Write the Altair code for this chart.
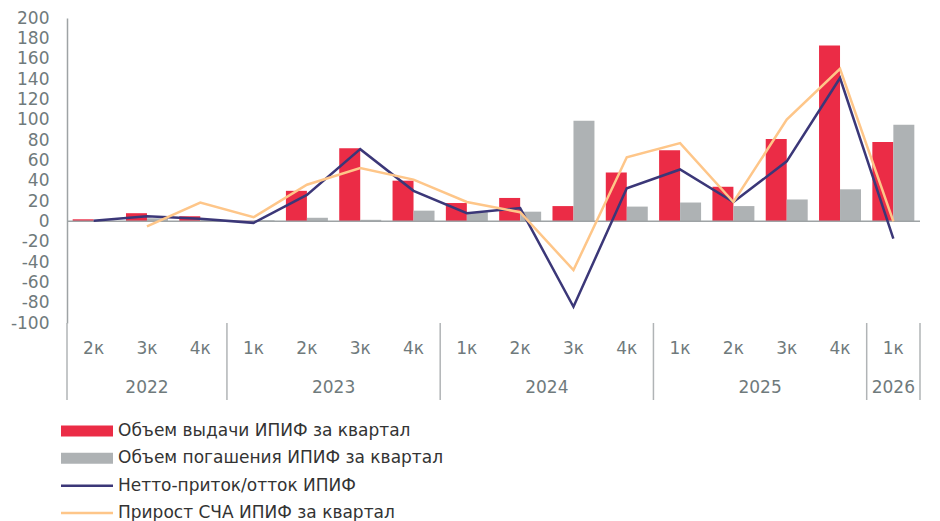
import altair as alt
import pandas as pd

years = ["2022", "2022", "2022", "2023", "2023", "2023", "2023",
         "2024", "2024", "2024", "2024", "2025", "2025", "2025", "2025", "2026"]
quarters = ["2к", "3к", "4к", "1к", "2к", "3к", "4к", "1к", "2к", "3к", "4к",
            "1к", "2к", "3к", "4к", "1к"]
issue = [2, 8, 5, 0.5, 30, 72, 40, 18, 23, 15, 48, 70, 34, 81, 173, 78]
redeem = [0.5, 3, 1.5, 1, 3.5, 1.5, 10.5, 9, 9.5, 99, 14.5, 18.5, 15, 21.5, 31.5, 95]
net = [0.5, 5, 2.5, -1.5, 26, 71, 30, 8, 13, -84, 32.5, 51, 19, 59, 141, -17]
nav = [None, -5, 18.5, 4, 36, 52.5, 41, 19, 9, -48, 63, 77, 19, 100, 150, 0]

s_issue = "Объем выдачи ИПИФ за квартал"
s_redeem = "Объем погашения ИПИФ за квартал"
s_net = "Нетто-приток/отток ИПИФ"
s_nav = "Прирост СЧА ИПИФ за квартал"
legend_labels = [s_issue, s_redeem, s_net, s_nav]
legend_colors = ["#EB2C46", "#AEB2B4", "#3B3778", "#FEC689"]
legend_kind = ["bar", "bar", "line", "line"]

keys = [f"{y}|{q}" for y, q in zip(years, quarters)]

bars_df = pd.DataFrame({
    "key": keys * 2,
    "series": [s_issue] * len(keys) + [s_redeem] * len(keys),
    "value": issue + redeem,
})
lines_df = pd.DataFrame({
    "key": keys * 2,
    "series": [s_net] * len(keys) + [s_nav] * len(keys),
    "value": net + nav,
}).dropna()

# year groups: boundaries and centres derived from the quarter counts
year_names = []
year_counts = []
for y in years:
    if not year_names or year_names[-1] != y:
        year_names.append(y)
        year_counts.append(0)
    year_counts[-1] += 1
starts = [sum(year_counts[:i]) for i in range(len(year_counts))]
years_df = pd.DataFrame({
    "year": year_names,
    "mid": [s + c / 2 for s, c in zip(starts, year_counts)],
})
bounds_df = pd.DataFrame({"b": starts + [len(keys)]})

LABEL = "#6F7A7C"
FONT = "DejaVu Sans"
FS = 17

xenc = alt.X("key:N", sort=keys, title=None,
             scale=alt.Scale(paddingInner=0, paddingOuter=0),
             axis=alt.Axis(labelExpr="split(datum.label, '|')[1]", labelAngle=0,
                           ticks=False, domain=False, labelPadding=17,
                           labelFontSize=FS, labelColor=LABEL, labelFont=FONT))
yscale = alt.Scale(domain=[-100, 200], nice=False)
yaxis = alt.Axis(values=list(range(-100, 201, 20)), grid=False, ticks=False,
                 tickSize=0, labelPadding=18, labelFontSize=FS, labelColor=LABEL,
                 labelFont=FONT, labelOverlap=False,
                 labelExpr="'' + datum.value",
                 domainColor="#9EA3A5", domainWidth=1.5)

color_scale = alt.Scale(domain=legend_labels, range=legend_colors)

bars = alt.Chart(bars_df).mark_bar().encode(
    x=xenc,
    xOffset=alt.XOffset("series:N", sort=[s_issue, s_redeem],
                        scale=alt.Scale(paddingInner=0, paddingOuter=0.27)),
    y=alt.Y("value:Q", scale=yscale, title=None, axis=yaxis),
    color=alt.Color("series:N", scale=color_scale, legend=None),
)

zero = alt.Chart(pd.DataFrame({"z": [0]})).mark_rule(color="#9EA3A5", strokeWidth=1.5).encode(
    y=alt.Y("z:Q", scale=yscale, title=None, axis=yaxis)
)

lines = alt.Chart(lines_df).mark_line(strokeWidth=2.5).encode(
    x=xenc,
    y=alt.Y("value:Q", scale=yscale, title=None, axis=yaxis),
    color=alt.Color("series:N", scale=color_scale, legend=None),
    detail="series:N",
)

main = alt.layer(bars, zero, lines)

xq = alt.Scale(domain=[0, len(keys)], nice=False, zero=False)
seps = alt.Chart(bounds_df).mark_rule(color="#B0B4B6", strokeWidth=1.5).encode(
    x=alt.X("b:Q", scale=xq, axis=None),
    y=alt.value(305),
    y2=alt.value(382),
)
year_text = alt.Chart(years_df).mark_text(fontSize=FS, font=FONT, color=LABEL,
                                          baseline="middle").encode(
    x=alt.X("mid:Q", scale=xq, axis=None),
    y=alt.value(370),
    text="year:N",
)

leg_df = pd.DataFrame({"label": legend_labels, "kind": legend_kind, "color": legend_colors})
leg_scale = alt.Scale(type="point", domain=legend_labels, range=[413, 495], padding=0)
leg_y = alt.Y("label:N", sort=legend_labels, axis=None, scale=leg_scale)
leg_bar = alt.Chart(leg_df).transform_filter("datum.kind == 'bar'").mark_rule(strokeWidth=11).encode(
    x=alt.value(-6), x2=alt.value(46), y=leg_y,
    color=alt.Color("color:N", scale=None),
)
leg_line = alt.Chart(leg_df).transform_filter("datum.kind == 'line'").mark_rule(strokeWidth=2.5).encode(
    x=alt.value(-6), x2=alt.value(46), y=leg_y,
    color=alt.Color("color:N", scale=None),
)
leg_text = alt.Chart(leg_df).mark_text(align="left", baseline="middle", fontSize=FS,
                                       font=FONT, color="#333333").encode(
    x=alt.value(51), y=leg_y, text="label:N",
)

chart = alt.layer(main, seps, year_text, leg_bar, leg_line, leg_text).resolve_scale(
    x="independent", y="independent"
).properties(
    width=853, height=305,
    autosize=alt.AutoSizeParams(type="none"),
    padding={"left": 67, "top": 18, "right": 20, "bottom": 198},
).configure_view(stroke=None).configure_axis(labelOverlap=False)

chart.save("out.html", embed_options={"renderer": "svg", "actions": False})
